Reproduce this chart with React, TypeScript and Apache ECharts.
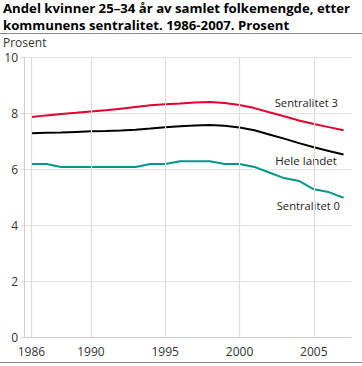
import React, { useEffect, useRef } from "react";
import * as echarts from "echarts";

const years = ["1986","1987","1988","1989","1990","1991","1992","1993","1994","1995","1996","1997","1998","1999","2000","2001","2002","2003","2004","2005","2006","2007"];
const labeledYears = ["1986", "1990", "1995", "2000", "2005"];
const sentralitet3 = [7.88, 7.94, 7.99, 8.03, 8.08, 8.12, 8.18, 8.24, 8.3, 8.34, 8.36, 8.4, 8.42, 8.38, 8.31, 8.2, 8.05, 7.91, 7.76, 7.63, 7.52, 7.41];
const heleLandet = [7.3, 7.32, 7.33, 7.35, 7.37, 7.38, 7.4, 7.43, 7.47, 7.52, 7.55, 7.58, 7.6, 7.57, 7.51, 7.41, 7.26, 7.11, 6.95, 6.8, 6.67, 6.54];
const sentralitet0 = [6.2, 6.2, 6.1, 6.1, 6.1, 6.1, 6.1, 6.1, 6.2, 6.2, 6.3, 6.3, 6.3, 6.2, 6.2, 6.1, 5.9, 5.7, 5.6, 5.3, 5.2, 5.0];
const yTicks = { min: 0, max: 10, interval: 2 };

const FONT = "'Open Sans', 'Noto Sans', sans-serif";

export default function App() {
  const ref = useRef<HTMLDivElement>(null);
  useEffect(() => {
    if (!ref.current) return;
    const chart = echarts.init(ref.current, undefined, { renderer: "svg" });
    const lineBase = {
      type: "line" as const,
      symbol: "none",
      silent: true,
      smooth: false,
    };
    chart.setOption({
      animation: false,
      textStyle: { fontFamily: FONT },
      grid: { left: 24, right: 11, top: 57.7, bottom: 28.3 },
      xAxis: {
        type: "category",
        data: years,
        boundaryGap: true,
        axisLine: { show: true, lineStyle: { color: "#cfcfcf", width: 1 } },
        axisTick: { show: false },
        splitLine: { show: false },
        axisLabel: {
          interval: (_i: number, v: string) => labeledYears.includes(v),
          color: "#333",
          fontSize: 12,
          fontFamily: FONT,
          margin: 8,
        },
      },
      yAxis: {
        type: "value",
        min: yTicks.min,
        max: yTicks.max,
        interval: yTicks.interval,
        axisLine: { show: true, lineStyle: { color: "#cfcfcf", width: 1 } },
        axisTick: { show: true, length: 3, lineStyle: { color: "#dcdcdc", width: 1.2 } },
        splitLine: { show: true, lineStyle: { color: "#e3e3e3", width: 1.2 } },
        axisLabel: { color: "#333", fontSize: 12, fontFamily: FONT, margin: 6 },
      },
      series: [
        {
          ...lineBase,
          name: "grid",
          data: [],
          markLine: {
            silent: true,
            symbol: "none",
            label: { show: false },
            lineStyle: { color: "#dcdcdc", width: 1.2, type: "solid" },
            data: labeledYears.map((y) => ({ xAxis: y })),
          },
        },
        { ...lineBase, name: "Sentralitet 0", data: sentralitet0, lineStyle: { color: "#00968a", width: 2 }, z: 3 },
        { ...lineBase, name: "Hele landet", data: heleLandet, lineStyle: { color: "#000000", width: 2 }, z: 3 },
        { ...lineBase, name: "Sentralitet 3", data: sentralitet3, lineStyle: { color: "#e3002c", width: 2 }, z: 3 },
      ],
      graphic: [
        {
          type: "text",
          left: 3,
          top: -1,
          style: {
            text: "Andel kvinner 25–34 år av samlet folkemengde, etter\nkommunens sentralitet. 1986-2007. Prosent",
            font: `bold 13.2px ${FONT}`,
            lineHeight: 17,
            fill: "#000",
          },
        },
        { type: "rect", shape: { x: 0, y: 33, width: 362, height: 1 }, style: { fill: "#8c8c8c" } },
        { type: "rect", shape: { x: 0, y: 362, width: 362, height: 1 }, style: { fill: "#8c8c8c" } },
        { type: "text", left: 3, top: 36, style: { text: "Prosent", font: `12px ${FONT}`, fill: "#333" } },
        { type: "text", right: 24, top: 97, style: { text: "Sentralitet 3", font: `11.2px ${FONT}`, fill: "#222" } },
        { type: "text", right: 25, top: 154, style: { text: "Hele landet", font: `11.6px ${FONT}`, fill: "#222" } },
        { type: "text", right: 22, top: 200, style: { text: "Sentralitet 0", font: `11.2px ${FONT}`, fill: "#222" } },
      ],
    });
    return () => chart.dispose();
  }, []);
  return <div ref={ref} style={{ width: 362, height: 366, position: "absolute", left: 0, top: 0 }} />;
}
